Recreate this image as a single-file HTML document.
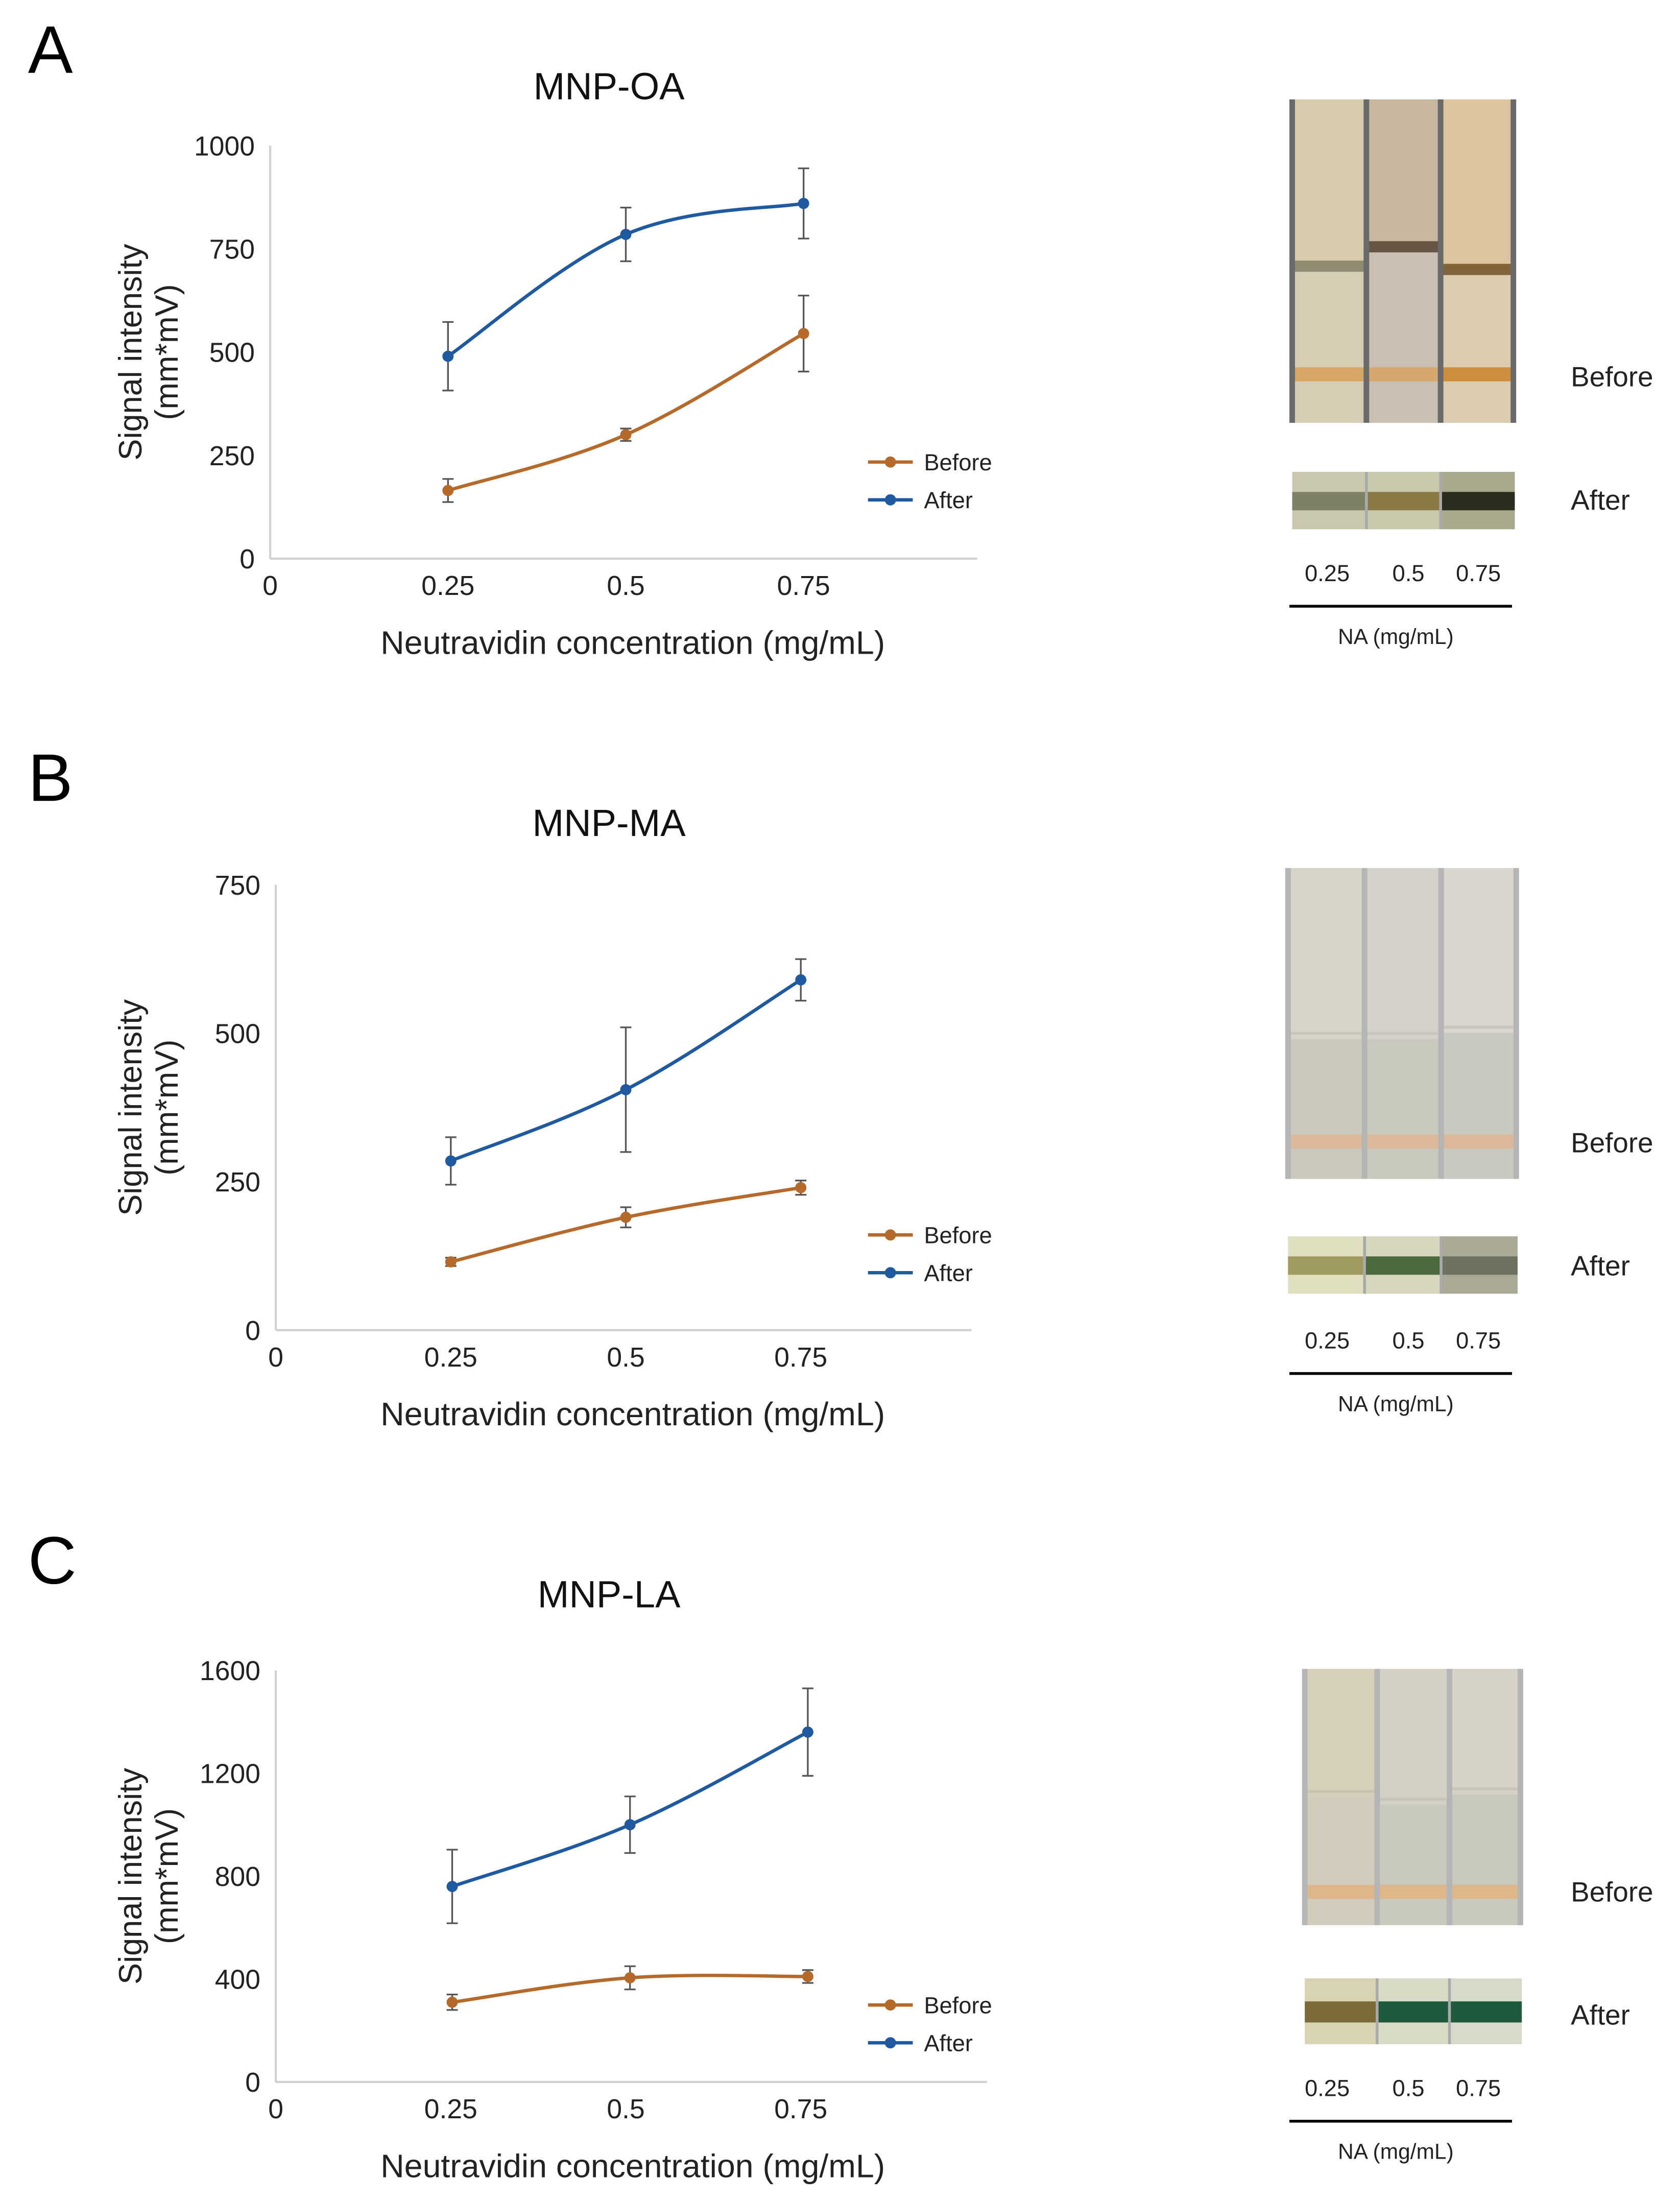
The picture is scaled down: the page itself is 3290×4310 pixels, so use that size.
<!DOCTYPE html>
<html><head><meta charset="utf-8"><style>
html,body{margin:0;padding:0;background:#fff;}
svg{display:block;font-family:"Liberation Sans",Arial,sans-serif;}
</style></head><body>
<svg id="fig" width="3290" height="4310" viewBox="0 0 1200 1572" preserveAspectRatio="none" xmlns="http://www.w3.org/2000/svg">
<rect width="1200" height="1572" fill="#fff"/>
</svg>
<script>
// ---- Data ----
const categories = [0.25, 0.5, 0.75];
const xTickLabels = ["0", "0.25", "0.5", "0.75"];
const seriesNames = ["Before", "After"];
// Panel A (MNP-OA)
const aBefore = [165, 300, 545];
const aBeforeErr = [28, 15, 92];
const aAfter = [490, 785, 860];
const aAfterErr = [83, 65, 85];
const aYTicks = [0, 250, 500, 750, 1000];
// Panel B (MNP-MA)
const bBefore = [115, 190, 240];
const bBeforeErr = [7, 17, 12];
const bAfter = [285, 405, 590];
const bAfterErr = [40, 105, 35];
const bYTicks = [0, 250, 500, 750];
// Panel C (MNP-LA)
const cBefore = [310, 405, 410];
const cBeforeErr = [30, 45, 25];
const cAfter = [760, 1000, 1360];
const cAfterErr = [143, 110, 170];
const cYTicks = [0, 400, 800, 1200, 1600];

const NS = "http://www.w3.org/2000/svg";
const svg = document.getElementById('fig');
function el(tag, attrs, parent, text) {
  const e = document.createElementNS(NS, tag);
  for (const k in attrs) e.setAttribute(k, attrs[k]);
  if (text !== undefined) e.textContent = text;
  (parent || svg).appendChild(e);
  return e;
}
function smoothPath(pts) {
  let d = `M${pts[0][0]},${pts[0][1]}`;
  for (let i = 0; i < pts.length - 1; i++) {
    const p0 = pts[i - 1] || pts[i], p1 = pts[i], p2 = pts[i + 1], p3 = pts[i + 2] || p2;
    const t = 0.18;
    const c1 = [p1[0] + (p2[0] - p0[0]) * t, p1[1] + (p2[1] - p0[1]) * t];
    const c2 = [p2[0] - (p3[0] - p1[0]) * t, p2[1] - (p3[1] - p1[1]) * t];
    d += ` C${c1[0]},${c1[1]} ${c2[0]},${c2[1]} ${p2[0]},${p2[1]}`;
  }
  return d;
}
const colors = { Before: "#b5692a", After: "#1f5aa0" };

function panel(cfg) {
  const g = el('g', {});
  
  
  const L = el('text', { x: 20, y: cfg.letterY, 'font-size': 48, fill: '#000' }, g, cfg.letter);
  
  
  const T = el('text', { x: 435, y: cfg.titleY, 'font-size': 27, 'text-anchor': 'middle', fill: '#111' }, g, cfg.title);
  
  
  const x0 = cfg.x0, xEnd = cfg.xEnd, y0 = cfg.y0, yTop = cfg.yTop;
  const ymax = cfg.yTicks[cfg.yTicks.length - 1];
  const xs = v => x0 + v * cfg.xUnit;
  const ys = v => y0 - (v / ymax) * (y0 - yTop);
  const ya = el('line', { x1: x0, y1: y0, x2: x0, y2: yTop, stroke: '#d0d0d0', 'stroke-width': 1.5 }, g);
  
  
  const xa = el('line', { x1: x0, y1: y0, x2: xEnd, y2: y0, stroke: '#d0d0d0', 'stroke-width': 1.5 }, g);
  
  
  cfg.yTicks.forEach(v => {
    const t = el('text', { x: x0 - 11, y: ys(v) + 7, 'font-size': 19.5, 'text-anchor': 'end', fill: '#222' }, g, String(v));
    
    
  });
  const xtv = [0].concat(categories);
  xtv.forEach((v, i) => {
    const t = el('text', { x: xs(v), y: y0 + 26, 'font-size': 19.5, 'text-anchor': 'middle', fill: '#222' }, g, xTickLabels[i]);
    
    
  });
  const xt = el('text', { x: 452, y: y0 + 68, 'font-size': 23.5, 'text-anchor': 'middle', fill: '#222' }, g, 'Neutravidin concentration (mg/mL)');
  
  
  const cy = (y0 + yTop) / 2;
  const yt = el('text', { transform: `translate(101,${cy}) rotate(-90)`, 'font-size': 23, 'text-anchor': 'middle', fill: '#222' }, g);
  
  
  el('tspan', { x: 0, y: 0 }, yt, 'Signal intensity');
  el('tspan', { x: 0, y: 26 }, yt, '(mm*mV)');
  [['Before', cfg.before, cfg.beforeErr], ['After', cfg.after, cfg.afterErr]].forEach(([name, vals, errs]) => {
    const col = colors[name];
    const pts = categories.map((c, i) => [xs(c) + (cfg.xShift ? cfg.xShift[i] : 0), ys(vals[i])]);
    const p = el('path', { d: smoothPath(pts), fill: 'none', stroke: col, 'stroke-width': 2.4 }, g);
    
    
    pts.forEach((pt, i) => {
      const top = ys(vals[i] + errs[i]), bot = ys(vals[i] - errs[i]);
      const e = el('path', { d: `M${pt[0]},${top}V${bot}M${pt[0]-4},${top}H${pt[0]+4}M${pt[0]-4},${bot}H${pt[0]+4}`, stroke: '#555', 'stroke-width': 1.2, fill: 'none' }, g);
      
      
      const c = el('circle', { cx: pt[0], cy: pt[1], r: 4, fill: col }, g);
      
      
    });
  });
  seriesNames.forEach((name, i) => {
    const ly = cfg.legY + i * 27;
    const lg = el('g', {}, g);
    
    
    el('line', { x1: 620, y1: ly, x2: 652, y2: ly, stroke: colors[name], 'stroke-width': 2.4 }, lg);
    el('circle', { cx: 636, cy: ly, r: 4, fill: colors[name] }, lg);
    el('text', { x: 660, y: ly + 6, 'font-size': 16.5, fill: '#222' }, lg, name);
  });
  const ph = cfg.photo;
  const pg = el('g', {}, g);
  
  
  const w = (ph.x2 - ph.x1) / 3;
  for (let i = 0; i < 3; i++) {
    const sx = ph.x1 + i * w;
    const s = ph.strips[i];
    el('rect', { x: sx, y: ph.by1, width: w, height: ph.by2 - ph.by1, fill: s.bottom }, pg);
    el('rect', { x: sx, y: ph.by1, width: w, height: (ph.by2 - ph.by1) * s.split, fill: s.top }, pg);
    el('rect', { x: sx, y: ph.by1 + (ph.by2 - ph.by1) * s.split - 5, width: w, height: s.lineH || 8, fill: s.line, opacity: 0.8 }, pg);
    el('rect', { x: sx, y: ph.by1 + (ph.by2 - ph.by1) * ph.band - 5, width: w, height: 10, fill: s.band }, pg);
    el('rect', { x: sx, y: ph.ay1, width: w, height: ph.ay2 - ph.ay1, fill: s.aBg }, pg);
    el('rect', { x: sx, y: ph.ay1 + (ph.ay2 - ph.ay1) * 0.35, width: w, height: (ph.ay2 - ph.ay1) * 0.32, fill: s.aBand }, pg);
    if (i > 0) {
      el('rect', { x: sx - 2, y: ph.by1, width: 4, height: ph.by2 - ph.by1, fill: ph.sep }, pg);
      el('rect', { x: sx - 1, y: ph.ay1, width: 2, height: ph.ay2 - ph.ay1, fill: '#aaa' }, pg);
    }
    const lt = el('text', { x: ph.lx[i], y: ph.ly, 'font-size': 16.5, 'text-anchor': 'middle', fill: '#222' }, pg, xTickLabels[i + 1]);
    
    
  }
  el('rect', { x: ph.x1 - 2, y: ph.by1, width: 4, height: ph.by2 - ph.by1, fill: ph.sep }, pg);
  el('rect', { x: ph.x2 - 3, y: ph.by1, width: 4, height: ph.by2 - ph.by1, fill: ph.sep }, pg);
  el('line', { x1: 921, y1: ph.ly + 18, x2: 1080, y2: ph.ly + 18, stroke: '#000', 'stroke-width': 2 }, pg);
  const na = el('text', { x: 997, y: ph.ly + 45, 'font-size': 15.5, 'text-anchor': 'middle', fill: '#222' }, pg, 'NA (mg/mL)');
  
  
  const bl = el('text', { x: 1122, y: ph.beforeY, 'font-size': 20, fill: '#222' }, pg, 'Before');
  
  
  const al = el('text', { x: 1122, y: ph.afterY, 'font-size': 20, fill: '#222' }, pg, 'After');
  
  
}

panel({ letter: 'A', letterY: 52, title: 'MNP-OA', titleY: 71, x0: 193, xEnd: 698, xUnit: 508, y0: 399, yTop: 104,
  yTicks: aYTicks, before: aBefore, beforeErr: aBeforeErr, after: aAfter, afterErr: aAfterErr, legY: 330,
  photo: { x1: 923, x2: 1082, by1: 71, by2: 302, band: 0.85, ay1: 337, ay2: 378, lx: [948, 1006, 1056], ly: 415, beforeY: 276, afterY: 364, sep: '#6a6a6a',
    strips: [
      { top: '#d9ccac', bottom: '#d6cdb4', split: 0.52, line: '#7c7a62', band: '#d7a865', aBg: '#c9c7ae', aBand: '#7f8167' },
      { top: '#c8b79e', bottom: '#c9bfb3', split: 0.46, line: '#4e3c2b', band: '#d6a76c', aBg: '#c9c9ad', aBand: '#8a7845' },
      { top: '#dcc49e', bottom: '#dbccb0', split: 0.53, line: '#6b4a1d', band: '#cc8d3c', aBg: '#a8a88d', aBand: '#2b2d1e' }
    ] } });

panel({ letter: 'B', letterY: 572, title: 'MNP-MA', titleY: 597, x0: 197, xEnd: 694, xUnit: 500, y0: 950, yTop: 632,
  yTicks: bYTicks, before: bBefore, beforeErr: bBeforeErr, after: bAfter, afterErr: bAfterErr, legY: 882,
  photo: { x1: 920, x2: 1084, by1: 620, by2: 842, band: 0.88, ay1: 883, ay2: 924, lx: [948, 1006, 1056], ly: 963, beforeY: 823, afterY: 911, sep: '#b5b5b5',
    strips: [
      { top: '#d6d3c8', bottom: '#cbc9bd', split: 0.55, line: '#c6c2b6', lineH: 2, band: '#ddb898', aBg: '#e0dfbf', aBand: '#9e9a60' },
      { top: '#d4d2c8', bottom: '#c9c8bd', split: 0.55, line: '#c6c2b6', lineH: 2, band: '#ddb898', aBg: '#d7d7bd', aBand: '#4d6a3e' },
      { top: '#d8d6cd', bottom: '#c9c9bf', split: 0.53, line: '#c6c2b6', lineH: 2, band: '#ddb898', aBg: '#a9a995', aBand: '#6f7260' }
    ] } });

panel({ letter: 'C', letterY: 1131, title: 'MNP-LA', titleY: 1148, x0: 197, xEnd: 705, xUnit: 500, y0: 1487, yTop: 1193,
  yTicks: cYTicks, before: cBefore, beforeErr: cBeforeErr, after: cAfter, afterErr: cAfterErr, legY: 1432, xShift: [1, 3, 5],
  photo: { x1: 932, x2: 1087, by1: 1192, by2: 1375, band: 0.87, ay1: 1413, ay2: 1460, lx: [948, 1006, 1056], ly: 1497, beforeY: 1358, afterY: 1446, sep: '#b5b5b5',
    strips: [
      { top: '#d6cfba', bottom: '#d2ccbc', split: 0.5, line: '#c6c0ae', lineH: 2, band: '#deb68a', aBg: '#d8d3b0', aBand: '#7d6a3a' },
      { top: '#d4d1c4', bottom: '#c9c8bd', split: 0.53, line: '#c6c2b6', lineH: 2, band: '#deb68a', aBg: '#d8dcc6', aBand: '#1f5a3c' },
      { top: '#d6d2c6', bottom: '#c8c8bd', split: 0.49, line: '#c6c2b6', lineH: 2, band: '#deb68a', aBg: '#d6dbc9', aBand: '#1f5a3c' }
    ] } });
</script>
</body></html>
